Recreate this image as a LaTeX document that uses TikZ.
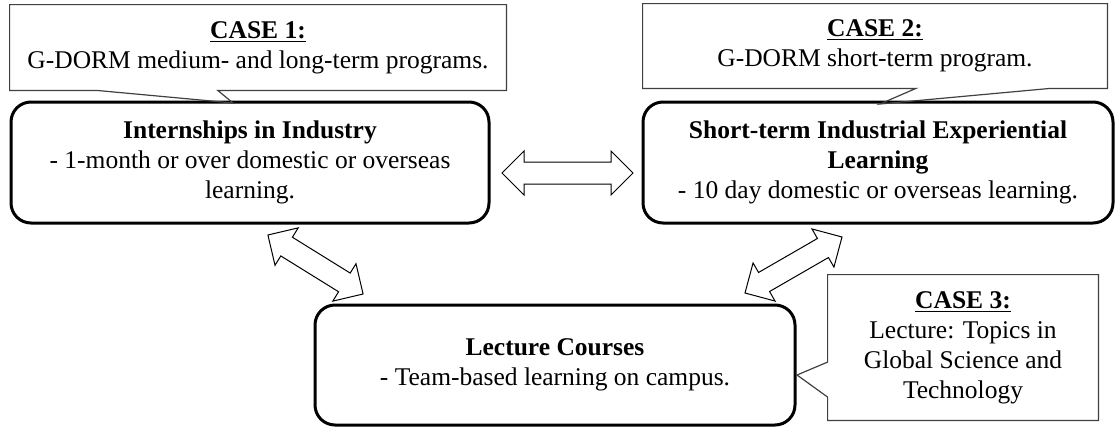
\documentclass[tikz,border=0pt]{standalone}
\usepackage{fontspec}
\setmainfont{Liberation Serif}
\usepackage{tikz}
\usetikzlibrary{shapes,shapes.arrows,calc}

\begin{document}
\begin{tikzpicture}[x=0.5pt,y=-0.5pt]
		\tikzstyle{stage}=[draw,rectangle,rounded corners=10pt,line width=1.5pt,align=center,inner sep=0pt,font=\fontsize{12.75pt}{15pt}\selectfont]
		\tikzstyle{case}=[rectangle,align=center,inner sep=0pt,font=\fontsize{12.75pt}{15pt}\selectfont]
		\tikzstyle{wedge}=[draw=black!75,line width=0.6pt]
		\tikzstyle{link}=[draw,double arrow,fill=white,line width=0.5pt,inner sep=5.25pt,double arrow head extend=5.5pt,double arrow tip angle=90]
		
		\useasboundingbox (0,0) rectangle (1119,428);
		
		\node[stage,minimum width=239pt,minimum height=60.5pt] (intern) at (250,162.5) {\textbf{Internships in Industry}\\- 1-month or over domestic or overseas\\learning.};
		\node[stage,minimum width=235pt,minimum height=60.5pt] (short) at (878,162.5) {\textbf{Short-term Industrial Experiential}\\\textbf{Learning}\\- 10 day domestic or overseas learning.};
		\node[stage,minimum width=240pt,minimum height=60pt] (lecture) at (555,365) {\textbf{Lecture Courses}\\- Team-based learning on campus.};
		
		\node[case,minimum width=248pt,minimum height=42.5pt] (case1) at (258,47.5) {\underline{\textbf{CASE 1:}}\\G-DORM medium- and long-term programs.};
		\node[case,minimum width=232pt,minimum height=42pt] (case2) at (875,46) {\underline{\textbf{CASE 2:}}\\G-DORM short-term program.};
		\node[case,minimum width=135pt,minimum height=72.5pt] (case3) at (963,347.5) {\underline{\textbf{CASE 3:}}\\Lecture: Topics in\\Global Science and\\Technology};
		
		\coordinate (tip1) at (233,103);
		\coordinate (tip2) at (880,104);
		\coordinate (tip3) at (797,375);
		
		\draw[wedge] (case1.north west) -- (case1.north east) -- (case1.south east) -- ($(case1.south west)!0.419!(case1.south east)$) -- (tip1) -- ($(case1.south west)!0.175!(case1.south east)$) -- (case1.south west) -- cycle;
		\draw[wedge] (case2.north west) -- (case2.north east) -- (case2.south east) -- ($(case2.south west)!0.877!(case2.south east)$) -- (tip2) -- ($(case2.south west)!0.588!(case2.south east)$) -- (case2.south west) -- cycle;
		\draw[wedge] (case3.north west) -- (case3.north east) -- (case3.south east) -- (case3.south west) -- ($(case3.north west)!0.84!(case3.south west)$) -- (tip3) -- ($(case3.north west)!0.6!(case3.south west)$) -- cycle;
		
		\node[link,minimum height=65.5pt] (a12) at (567.5,173) {};
		\node[link,minimum height=56pt,rotate=-31.8] (a13) at (315.5,264.5) {};
		\node[link,minimum height=56pt,rotate=30] (a23) at (793.5,265) {};
		
\end{tikzpicture}
\end{document}
